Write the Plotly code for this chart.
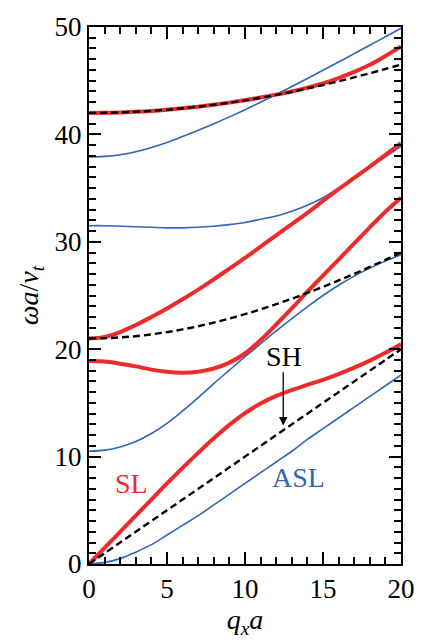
import plotly.graph_objects as go

# q_x a values
qx = list(range(21))

# SL (symmetric Lamb) branches - red
sl1 = [0, 1.5, 3.0, 4.5, 6.0, 7.5, 8.95, 10.35, 11.7, 12.95, 14.05, 14.95, 15.65, 16.2, 16.68, 17.15, 17.68, 18.28, 18.94, 19.66, 20.45]
sl2 = [18.9, 18.85, 18.65, 18.4, 18.1, 17.9, 17.8, 17.9, 18.2, 18.75, 19.6, 20.85, 22.3, 23.8, 25.35, 26.85, 28.35, 29.85, 31.35, 32.8, 34.1]
sl3 = [21.0, 21.15, 21.6, 22.25, 23.0, 23.8, 24.65, 25.55, 26.5, 27.5, 28.5, 29.55, 30.6, 31.65, 32.7, 33.8, 34.9, 35.95, 37.0, 38.1, 39.2]
sl4 = [42.0, 42.01, 42.05, 42.11, 42.19, 42.3, 42.43, 42.58, 42.76, 42.96, 43.18, 43.43, 43.7, 44.0, 44.35, 44.75, 45.25, 45.82, 46.48, 47.3, 48.2]

# ASL (antisymmetric Lamb) branches - blue
asl1 = [0, 0.15, 0.5, 1.1, 1.8, 2.7, 3.6, 4.5, 5.5, 6.5, 7.5, 8.5, 9.5, 10.5, 11.6, 12.6, 13.6, 14.6, 15.6, 16.6, 17.6]
asl2 = [10.5, 10.6, 10.9, 11.4, 12.15, 13.1, 14.25, 15.5, 16.8, 18.05, 19.3, 20.5, 21.7, 22.85, 23.95, 25.0, 25.95, 26.8, 27.55, 28.2, 28.8]
asl3 = [31.5, 31.5, 31.45, 31.4, 31.35, 31.3, 31.3, 31.35, 31.45, 31.6, 31.8, 32.1, 32.4, 32.85, 33.4, 34.1, 35.0, 35.9, 36.9, 37.9, 38.9]
asl4 = [37.9, 37.95, 38.1, 38.38, 38.78, 39.25, 39.8, 40.38, 40.99, 41.63, 42.3, 43.0, 43.72, 44.46, 45.21, 45.97, 46.74, 47.52, 48.3, 49.09, 49.88]

# SH (shear horizontal) branches - black dashed
sh0 = [0, 1, 2, 3, 4, 5, 6, 7, 8, 9, 10, 11, 12, 13, 14, 15, 16, 17, 18, 19, 20]
sh1 = [21.0, 21.02, 21.1, 21.21, 21.38, 21.59, 21.84, 22.14, 22.48, 22.85, 23.26, 23.71, 24.19, 24.7, 25.24, 25.81, 26.4, 27.02, 27.66, 28.32, 29.0]
sh2 = [42.0, 42.01, 42.05, 42.11, 42.19, 42.3, 42.43, 42.58, 42.76, 42.96, 43.17, 43.42, 43.68, 43.97, 44.27, 44.6, 44.94, 45.31, 45.69, 46.09, 46.5]

RED = "#ee2b2b"
BLUE = "#3066b8"
FONT = "'Liberation Serif', 'Times New Roman', Times, serif"

fig = go.Figure()
for ys in [asl1, asl2, asl3, asl4]:
    fig.add_trace(go.Scatter(x=qx, y=ys, mode="lines", line=dict(color=BLUE, width=1.6, shape="spline"),
                             showlegend=False, hoverinfo="skip"))
for ys in [sl1, sl2, sl3, sl4]:
    fig.add_trace(go.Scatter(x=qx, y=ys, mode="lines", line=dict(color=RED, width=4, shape="spline"),
                             showlegend=False, hoverinfo="skip"))
for ys in [sh0, sh1, sh2]:
    fig.add_trace(go.Scatter(x=qx, y=ys, mode="lines", line=dict(color="black", width=2.4, dash="7px,4px", shape="spline"),
                             showlegend=False, hoverinfo="skip"))

axis_common = dict(
    showgrid=False, zeroline=False, showline=True, linecolor="black", linewidth=2,
    ticks="inside", ticklen=12, tickwidth=1.8, tickcolor="black", mirror="ticks",
    tickfont=dict(family=FONT, size=27, color="black"),
)

fig.update_xaxes(range=[0, 20], tickvals=[0, 5, 10, 15, 20],
                 minor=dict(dtick=1, ticklen=7, tickwidth=1.8, tickcolor="black", ticks="inside"),
                 title=dict(text="<i>q</i><sub><i>x</i></sub><i>a</i>", font=dict(family=FONT, size=28, color="black"), standoff=4),
                 **axis_common)
fig.update_yaxes(range=[0, 50], tickvals=[0, 10, 20, 30, 40, 50],
                 minor=dict(dtick=1, ticklen=7, tickwidth=1.8, tickcolor="black", ticks="inside"),
                 title=dict(text="<i>ωa</i>/<i>v</i><sub><i>t</i></sub>", font=dict(family=FONT, size=28, color="black"), standoff=8),
                 **axis_common)

fig.add_annotation(x=2.7, y=7.5, text="SL", showarrow=False, font=dict(family=FONT, size=28, color=RED))
fig.add_annotation(x=13.4, y=8.1, text="ASL", showarrow=False, font=dict(family=FONT, size=28, color=BLUE))
fig.add_annotation(x=12.5, y=19.3, text="SH", showarrow=False, font=dict(family=FONT, size=28, color="black"))
fig.add_annotation(x=12.45, y=12.9, ax=12.45, ay=18.0, axref="x", ayref="y", text="",
                   showarrow=True, arrowhead=2, arrowsize=1.3, arrowwidth=1.3, arrowcolor="black")

fig.update_layout(
    width=427, height=640,
    margin=dict(l=89, r=15, t=20, b=70),
    paper_bgcolor="white", plot_bgcolor="white",
    font=dict(family=FONT, color="black"),
)

fig.write_html("out.html")
